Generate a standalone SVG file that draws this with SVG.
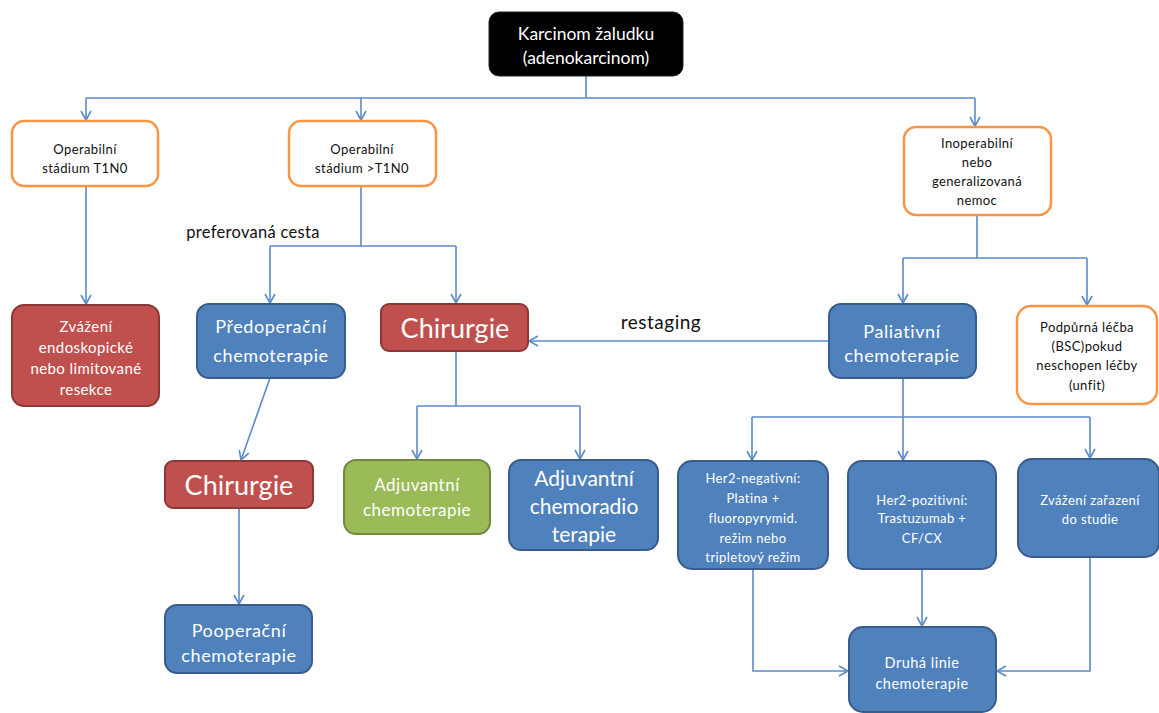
<svg xmlns="http://www.w3.org/2000/svg" width="1159" height="713" viewBox="0 0 1159 713">
<style>
.c{fill:none;stroke:#5b8bc9;stroke-width:1.6;marker-end:url(#a)}
.l{fill:none;stroke:#5b8bc9;stroke-width:1.6}
.b{fill:#4f81bd;stroke:#385d8a;stroke-width:2}
.r{fill:#c0504d;stroke:#8c3836;stroke-width:2}
.g{fill:#9bbb59;stroke:#71893f;stroke-width:2}
.o{fill:#fff;stroke:#f79646;stroke-width:2.5}
.k{fill:#000;stroke:#222;stroke-width:1}
text{font-family:Lato,"Liberation Sans",sans-serif;text-anchor:middle}
.w{fill:#fff}
.d{fill:#111}
.s{font-size:13px;letter-spacing:0.4px}
.m{font-size:15px;letter-spacing:0.4px}
.n{font-size:18px;letter-spacing:0.6px}
.big{font-size:27px}
</style>
<defs>
<marker id="a" markerUnits="userSpaceOnUse" markerWidth="14" markerHeight="14" refX="10" refY="6" orient="auto">
<path d="M1,1 L10,6 L1,11" fill="none" stroke="#5b8bc9" stroke-width="1.6"/>
</marker>
</defs>
<rect width="1159" height="713" fill="#fff"/>
<g id="connectors">
<path class="l" d="M586,76 V98 M86,98 H975"/>
<path class="c" d="M86,98 V120"/>
<path class="c" d="M361,98 V120"/>
<path class="c" d="M975,98 V126"/>
<path class="c" d="M86,186 V304"/>
<path class="l" d="M361,186 V246 M270,246 H456"/>
<path class="c" d="M270,246 V303"/>
<path class="c" d="M456,246 V303"/>
<path class="l" d="M977,215 V258 M903,258 H1087"/>
<path class="c" d="M903,258 V303"/>
<path class="c" d="M1087,258 V305"/>
<path class="c" d="M829,341 H529"/>
<path class="l" d="M456,351 V406 M417,406 H580"/>
<path class="c" d="M417,406 V459"/>
<path class="c" d="M580,406 V459"/>
<path class="c" d="M270,378 L241,460"/>
<path class="c" d="M239,508 V604"/>
<path class="l" d="M903,378 V417 M752,417 H1090"/>
<path class="c" d="M752,417 V460"/>
<path class="c" d="M903,417 V460"/>
<path class="c" d="M1090,417 V458"/>
<path class="c" d="M753,569 V671 H848"/>
<path class="c" d="M922,569 V626"/>
<path class="c" d="M1090,557 V671 H997"/>
</g>
<g id="n-top"><rect class="k" x="489" y="12" width="194" height="64" rx="10"/><text class="w" x="586" y="40" font-size="17.5">Karcinom žaludku</text><text class="w" x="586" y="64" font-size="17.5">(adenokarcinom)</text></g>
<g id="n-op1"><rect class="o" x="12" y="121" width="146" height="65" rx="12"/><text class="d s" x="85" y="154">Operabilní</text><text class="d s" x="85" y="173">stádium  T1N0</text></g>
<g id="n-op2"><rect class="o" x="289" y="121" width="147" height="65" rx="12"/><text class="d s" x="362" y="154">Operabilní</text><text class="d s" x="362" y="173">stádium  &gt;T1N0</text></g>
<g id="n-inop"><rect class="o" x="904" y="127" width="147" height="88" rx="12"/><text class="d s" x="977" y="148">Inoperabilní</text><text class="d s" x="977" y="167">nebo</text><text class="d s" x="977" y="186">generalizovaná</text><text class="d s" x="977" y="205">nemoc</text></g>
<g id="label-pref"><text class="d" x="253" y="238" font-size="16.5" letter-spacing="0.3">preferovaná cesta</text></g>
<g id="n-endo"><rect class="r" x="12" y="305" width="147" height="101" rx="12"/><text class="w m" x="86" y="332">Zvážení</text><text class="w m" x="86" y="353">endoskopické</text><text class="w m" x="86" y="374">nebo limitované</text><text class="w m" x="86" y="395">resekce</text></g>
<g id="n-pred"><rect class="b" x="197" y="304" width="148" height="74" rx="12"/><text class="w n" x="271" y="333">Předoperační</text><text class="w n" x="271" y="362">chemoterapie</text></g>
<g id="n-chir1"><rect class="r" x="381" y="304" width="147" height="47" rx="8"/><text class="w big" x="455" y="338">Chirurgie</text></g>
<g id="label-restaging"><text class="d" x="661" y="329" font-size="19" letter-spacing="0.5">restaging</text></g>
<g id="n-pal"><rect class="b" x="829" y="304" width="147" height="74" rx="12"/><text class="w n" x="902" y="338">Paliativní</text><text class="w n" x="902" y="362">chemoterapie</text></g>
<g id="n-bsc"><rect class="o" x="1017" y="306" width="140" height="98" rx="14"/><text class="d s" x="1087" y="332">Podpůrná  léčba</text><text class="d s" x="1087" y="351">(BSC)pokud</text><text class="d s" x="1087" y="370">neschopen  léčby</text><text class="d s" x="1087" y="390">(unfit)</text></g>
<g id="n-chir2"><rect class="r" x="165" y="461" width="148" height="47" rx="8"/><text class="w big" x="239" y="495">Chirurgie</text></g>
<g id="n-adjch"><rect class="g" x="344" y="460" width="146" height="74" rx="12"/><text class="w" x="417" y="491" font-size="17" letter-spacing="0.5">Adjuvantní</text><text class="w" x="417" y="516" font-size="17" letter-spacing="0.5">chemoterapie</text></g>
<g id="n-adjcr"><rect class="b" x="509" y="460" width="149" height="90" rx="12"/><text class="w" x="584" y="486" font-size="21">Adjuvantní</text><text class="w" x="584" y="514" font-size="21">chemoradio</text><text class="w" x="584" y="542" font-size="21">terapie</text></g>
<g id="n-poop"><rect class="b" x="165" y="605" width="147" height="68" rx="12"/><text class="w n" x="239" y="637">Pooperační</text><text class="w n" x="239" y="662">chemoterapie</text></g>
<g id="n-her2neg"><rect class="b" x="678" y="461" width="150" height="108" rx="14"/><text class="w s" x="753" y="483">Her2-negativní:</text><text class="w s" x="753" y="503">Platina  +</text><text class="w s" x="753" y="523">fluoropyrymid.</text><text class="w s" x="753" y="543">režim  nebo</text><text class="w s" x="753" y="562">tripletový  režim</text></g>
<g id="n-her2pos"><rect class="b" x="848" y="461" width="148" height="108" rx="14"/><text class="w s" x="922" y="505">Her2-pozitivní:</text><text class="w s" x="922" y="523">Trastuzumab  +</text><text class="w s" x="922" y="543">CF/CX</text></g>
<g id="n-studie"><rect class="b" x="1018" y="459" width="141" height="98" rx="14"/><text class="w s" x="1090" y="505">Zvážení zařazení</text><text class="w s" x="1090" y="524">do studie</text></g>
<g id="n-druha"><rect class="b" x="849" y="627" width="147" height="85" rx="14"/><text class="w" x="922" y="668" font-size="14.5" letter-spacing="0.5">Druhá linie</text><text class="w" x="922" y="689" font-size="14.5" letter-spacing="0.5">chemoterapie</text></g>
</svg>
